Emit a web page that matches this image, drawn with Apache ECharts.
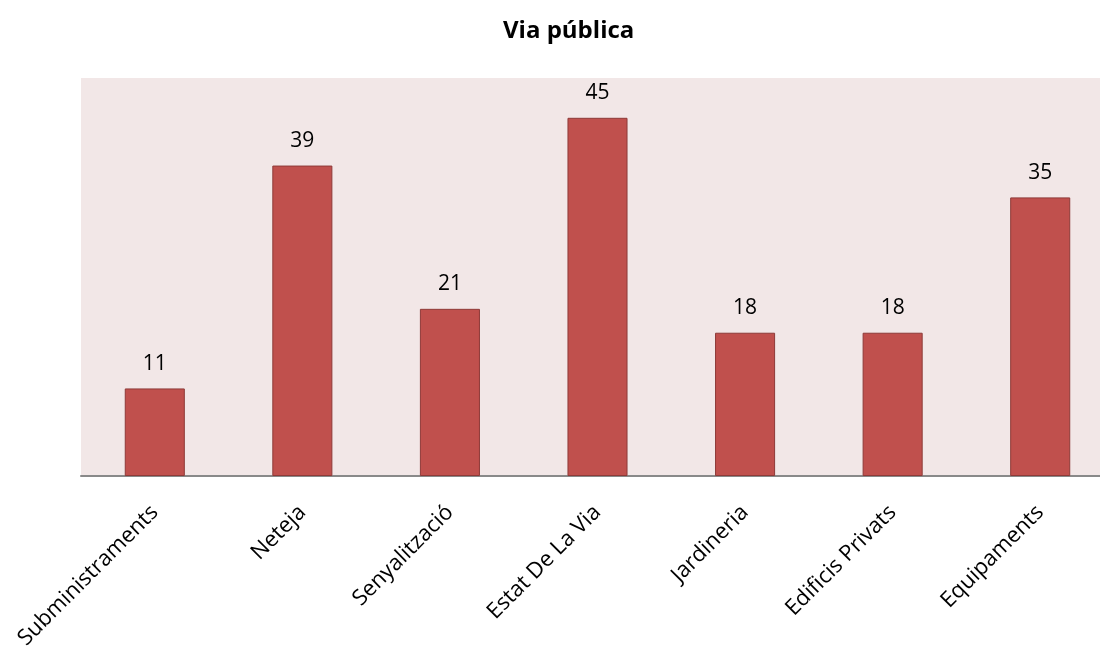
<!DOCTYPE html>
<html>
<head>
<meta charset="utf-8">
<script src="https://cdn.jsdelivr.net/npm/echarts@6/dist/echarts.min.js"></script>
<style>html,body{margin:0;padding:0;background:#fff;}#c{width:1100px;height:647px;}</style>
</head>
<body>
<div id="c"></div>
<script>
const categories = ["Subministraments","Neteja","Senyalització","Estat De La Via","Jardineria","Edificis Privats","Equipaments"];
const values = [11, 39, 21, 45, 18, 18, 35];
const title = "Via pública";

const chart = echarts.init(document.getElementById('c'));
chart.setOption({
  animation: false,
  title: {
    text: title, left: 498, top: 14,
    textStyle: { fontFamily: 'Open Sans', fontWeight: 'bold', fontSize: 24, color: '#000' }
  },
  grid: { left: 81, width: 1033, top: 78, height: 398, outerBoundsMode: 'none', containLabel: false, show: true, backgroundColor: '#F2E7E7', borderWidth: 0 },
  xAxis: {
    type: 'category', data: categories,
    axisLine: { lineStyle: { color: '#898989', width: 2 } },
    axisTick: { show: false },
    axisLabel: { rotate: 45, interval: 0, margin: 33, fontFamily: 'Open Sans', fontSize: 22, color: '#000' }
  },
  yAxis: { type: 'value', min: 0, max: 50, show: false, splitLine: { show: false } },
  series: [{
    type: 'bar', data: values, barWidth: '40.7%',
    itemStyle: { color: '#C0504D', borderColor: '#8E3A38', borderWidth: 1 },
    label: { show: true, position: 'top', distance: 14, fontFamily: 'Open Sans', fontSize: 21, color: '#000' }
  }]
});
</script>
</body>
</html>
